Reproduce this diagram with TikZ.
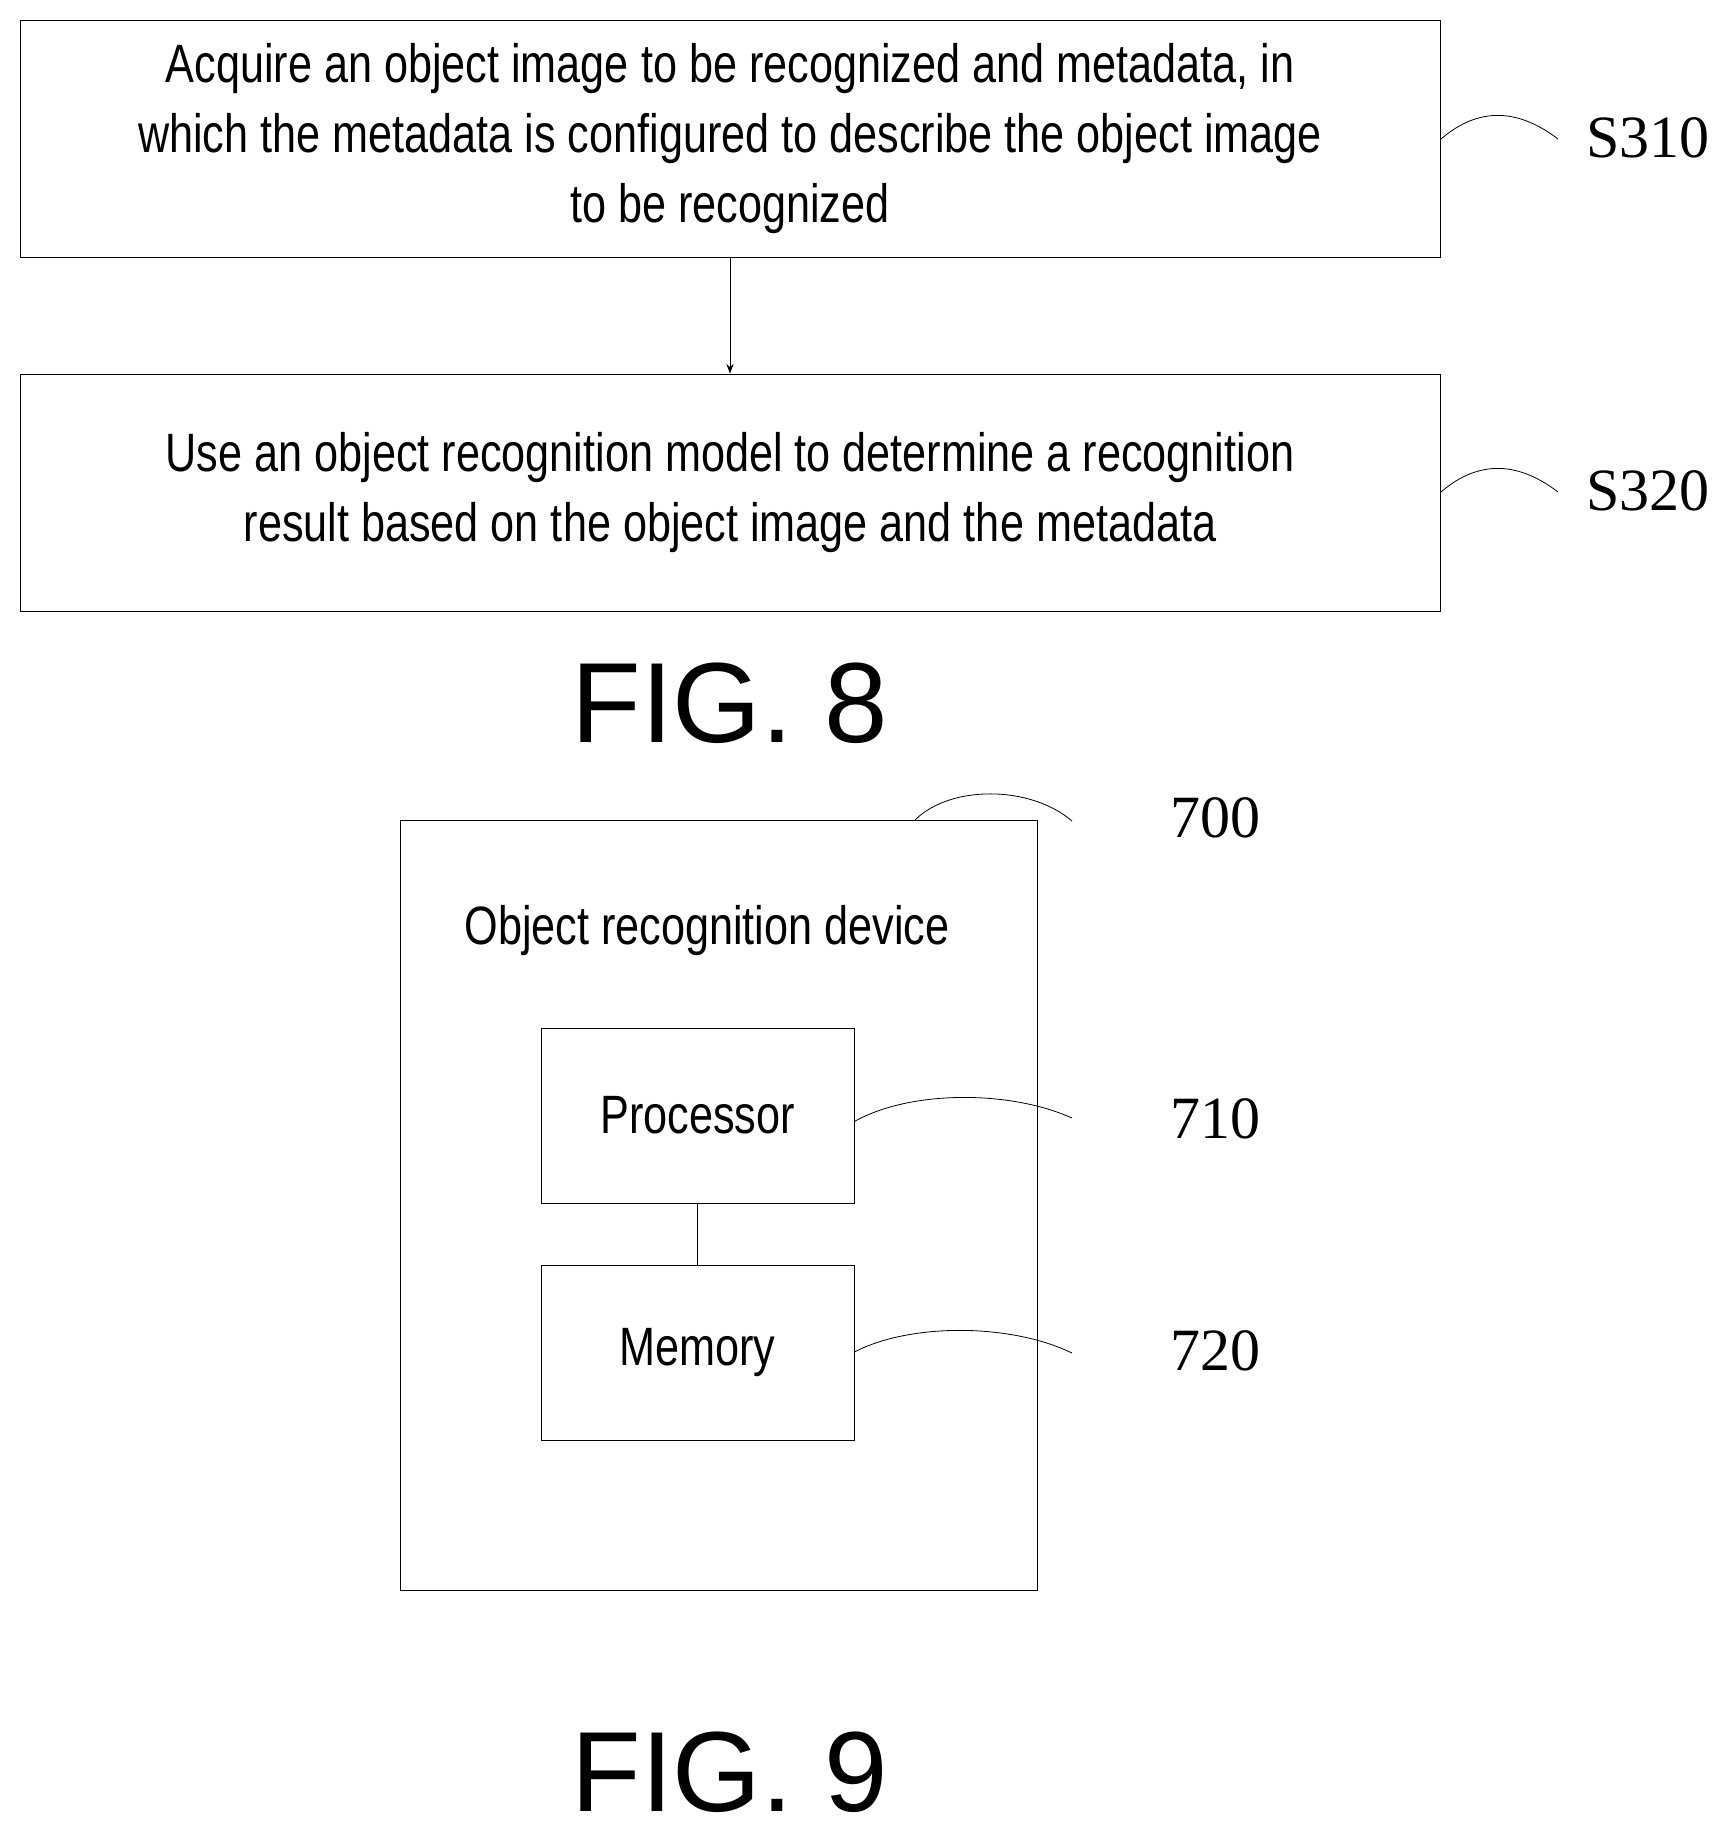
\documentclass[tikz,border=0pt]{standalone}
\usepackage{fontspec}
\setmainfont{Liberation Serif}
\setsansfont{Liberation Sans}
\newfontfamily\narrowsans[FakeStretch=0.8]{Liberation Sans}
\usetikzlibrary{positioning,arrows.meta}
\tikzset{
  stepbox/.style={draw, minimum width=710pt, minimum height=118.5pt, align=center, font=\narrowsans\fontsize{27}{35}\selectfont},
  unit/.style={draw, minimum width=156.5pt, minimum height=87.5pt, font=\narrowsans\fontsize{27}{35}\selectfont},
  tag/.style={font=\fontsize{30}{36}\selectfont},
  fig/.style={font=\sffamily\fontsize{57}{60}\selectfont},
  lead/.style={line width=0.4pt},
}
\begin{document}
\begin{tikzpicture}[x=0.5pt, y=-0.5pt, >=Stealth]
\useasboundingbox (0,0) rectangle (1723,1828);
\node (s310) [stepbox] at (730,138.5) {Acquire an object image to be recognized and metadata, in\\which the metadata is configured to describe the object image\\to be recognized};
\node (s320) [stepbox] at (730,492.5) {Use an object recognition model to determine a recognition\\result based on the object image and the metadata};
\node (fig8) [fig] at (730,703) {FIG. 8};

\draw[->] (s310) -- (s320);

% step tags
\node (t310) [tag] at (1648,138) {S310};
\node (t320) [tag] at (1648,491) {S320};
\draw[lead] (s310.east) ++(0,1) .. controls (1480,105) and (1520,110) .. (1558,139);
\draw[lead] (s320.east) ++(0,0) .. controls (1480,458) and (1520,463) .. (1558,492);

% device
\node (dev) [draw, minimum width=318.5pt, minimum height=385pt] at (718.5,1205) {};
\node (devname) [font=\narrowsans\fontsize{27}{35}\selectfont] at (707,931) {Object recognition device};
\node (proc) [unit] at (697.5,1115.5) {Processor};
\node (mem) [unit] at (697.5,1353) {Memory};
\draw (proc) -- (mem);
\node (fig9) [fig] at (730,1772) {FIG. 9};

% part tags
\node (t700) [tag] at (1215,818) {700};
\node (t710) [tag] at (1215,1119) {710};
\node (t720) [tag] at (1215,1351) {720};
\coordinate (c700) at (915,820);
\draw[lead] (c700) .. controls (950,785) and (1030,785) .. (1072,821);
\draw[lead] (proc.east) ++(0,6) .. controls (910,1090) and (1010,1090) .. (1072,1118);
\draw[lead] (mem.east) ++(0,-1) .. controls (910,1323) and (1010,1323) .. (1072,1353);
\end{tikzpicture}
\end{document}
